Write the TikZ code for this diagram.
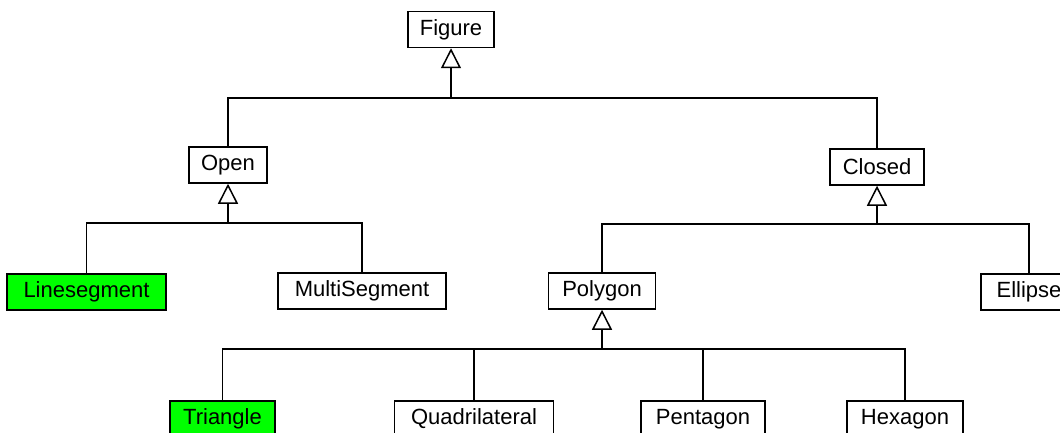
\documentclass[tikz,border=0pt]{standalone}
\usepackage{fontspec}
\setmainfont{Liberation Sans}
\usetikzlibrary{arrows.meta}
\definecolor{hl}{RGB}{0,255,0}
\tikzset{
  cls/.style={draw, line width=1.5pt, inner sep=0pt, minimum height=36pt,
    font=\fontsize{22}{26}\selectfont},
  link/.style={line width=1.5pt},
  inh/.style={line width=1.5pt, -{Triangle[open, length=20pt, width=20pt, line width=1.5pt]}}
}
\begin{document}
\begin{tikzpicture}[x=1pt, y=-1pt]
\clip (0,0) rectangle (1060,433);
\fill[white] (0,0) rectangle (1060,433);
% nodes
\node[cls, minimum width=86pt] (figure) at (451,29.5) {Figure};
\node[cls, minimum width=78pt] (open) at (228,165) {Open};
\node[cls, minimum width=94pt] (closed) at (877,167) {Closed};
\node[cls, fill=hl, minimum width=159pt] (lineseg) at (86.5,292) {Linesegment};
\node[cls, minimum width=168pt] (multi) at (362,291) {MultiSegment};
\node[cls, minimum width=107pt] (polygon) at (602,291) {Polygon};
\node[cls, minimum width=96pt] (ellipse) at (1029,292) {Ellipse};
\node[cls, fill=hl, minimum width=105pt] (triangle) at (222.5,419) {Triangle};
\node[cls, minimum width=159pt] (quad) at (474,419) {Quadrilateral};
\node[cls, minimum width=124pt] (penta) at (703,419) {Pentagon};
\node[cls, minimum width=116pt] (hexa) at (905,419) {Hexagon};
% bus points
\coordinate (busF) at (451,98);
\coordinate (busO) at (228,223);
\coordinate (busC) at (877,224);
\coordinate (busP) at (602,349);
% Figure
\draw[inh] (busF) -- (figure.south);
\draw[link] (open.north) |- (busF) -| (closed.north);
% Open
\draw[inh] (busO) -- (open.south);
\draw[link] (lineseg.north) |- (busO) -| (multi.north);
% Closed
\draw[inh] (busC) -- (closed.south);
\draw[link] (polygon.north) |- (busC) -| (ellipse.north);
% Polygon
\draw[inh] (busP) -- (polygon.south);
\draw[link] (triangle.north) |- (busP) -| (hexa.north);
\draw[link] (quad.north) -- (quad.north |- busP);
\draw[link] (penta.north) -- (penta.north |- busP);
\end{tikzpicture}
\end{document}
